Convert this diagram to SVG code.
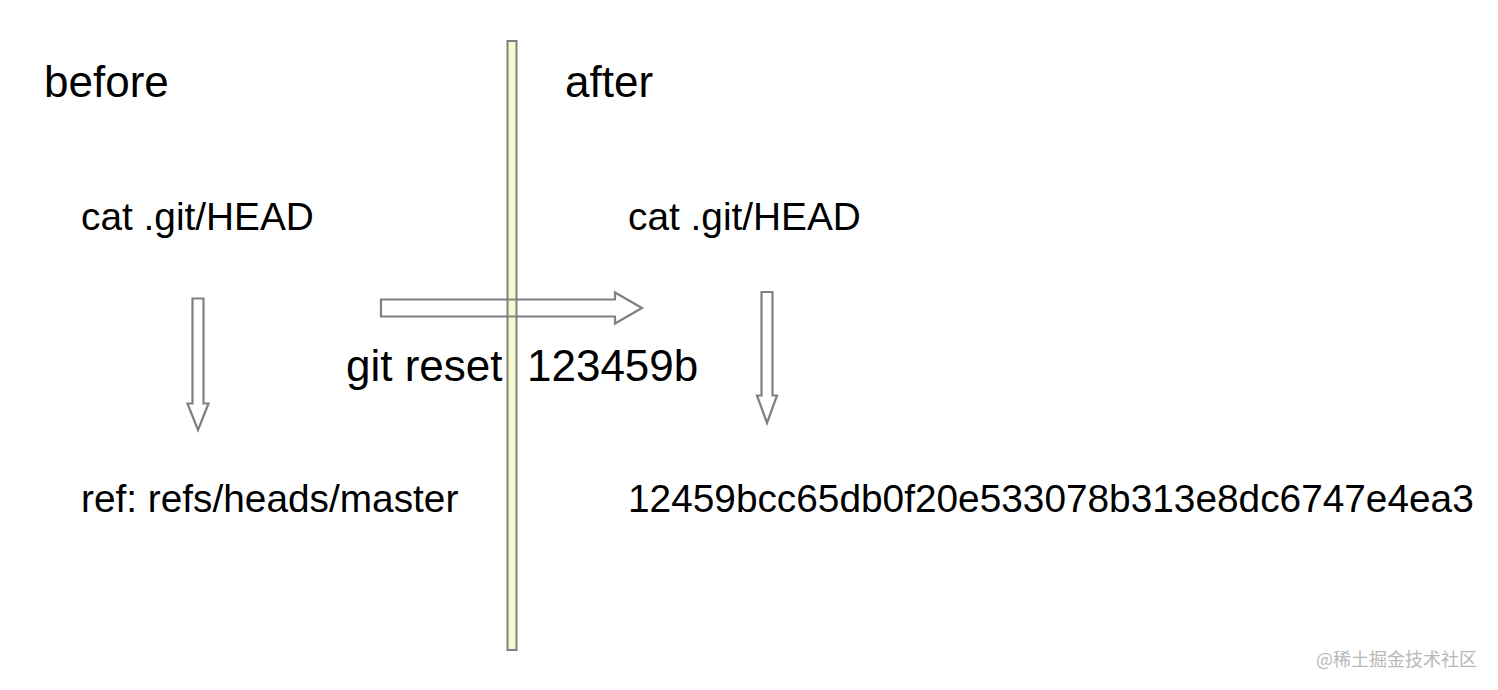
<svg xmlns="http://www.w3.org/2000/svg" width="1498" height="690" viewBox="0 0 1498 690">
<style>
.t{font-family:"Liberation Sans",Arial,sans-serif;fill:#000}
.big{font-size:44px}
.mid{font-size:38.8px}
.arr{fill:#fff;fill-opacity:0;stroke:#808080;stroke-width:2.2;stroke-linejoin:miter}
.wm{font-family:"Noto Sans CJK SC","Noto Sans",sans-serif;font-size:18px;fill:#b8b8b8}
</style>
<rect width="1498" height="690" fill="#fff"/>
<g id="divider">
<rect x="507.5" y="41" width="9" height="609" fill="#f6fbcc" stroke="#808080" stroke-width="2"/>
</g>
<g id="before">
<text class="t big" x="44" y="97">before</text>
</g>
<g id="after">
<text class="t big" x="565" y="97">after</text>
</g>
<g id="head-before">
<text class="t mid" x="81" y="230">cat .git/HEAD</text>
</g>
<g id="ref-master">
<text class="t mid" x="81" y="512">ref: refs/heads/master</text>
</g>
<g id="head-after">
<text class="t mid" x="628" y="230">cat .git/HEAD</text>
</g>
<g id="hash">
<text class="t mid" x="628" y="512">12459bcc65db0f20e533078b313e8dc6747e4ea3</text>
</g>
<g id="connectors">
<path class="arr" d="M192.5,298.5 H203.5 V403.5 H208.5 L198,430 L187.5,403.5 H192.5 Z"/>
<path class="arr" d="M761.5,292 H772.5 V395.5 H777 L767,423 L757,395.5 H761.5 Z"/>
<path class="arr" d="M381,299.5 H615 V292.5 L642,308 L615,323.5 V316.5 H381 Z"/>
<text class="t big" x="346" y="381" style="white-space:pre">git reset  123459b</text>
</g>
<g id="watermark">
<text class="wm" x="1316" y="666">@稀土掘金技术社区</text>
</g>
</svg>
